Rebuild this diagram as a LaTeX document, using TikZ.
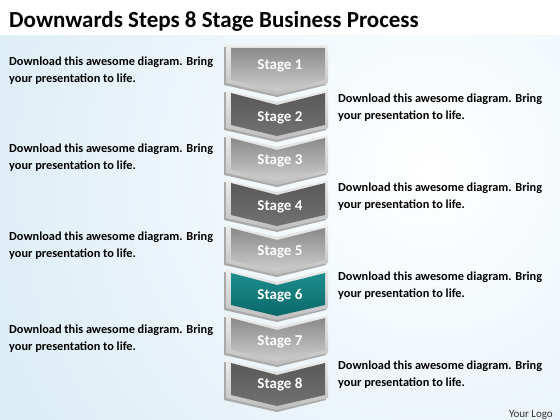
\documentclass[tikz,border=0pt]{standalone}
\usepackage{fontspec}
\setmainfont{Carlito}
\definecolor{bgblue}{HTML}{C4E0F0}
\definecolor{lightTop}{HTML}{8A8A8A}
\definecolor{lightBot}{HTML}{CDCDCD}
\definecolor{darkTop}{HTML}{595959}
\definecolor{darkBot}{HTML}{727272}
\definecolor{tealTop}{HTML}{1E8E8E}
\definecolor{tealBot}{HTML}{0A6868}
\definecolor{bevelTop}{HTML}{EDEDED}
\definecolor{bevelBot}{HTML}{BDBDBD}
\definecolor{shadowgray}{HTML}{A9A9A9}
\tikzset{
  desc/.style={anchor=west, align=left, inner sep=0pt, font=\fontsize{12.3}{17}\selectfont\bfseries, text=black},
  stagelabel/.style={inner sep=0pt, font=\fontsize{15}{16}\selectfont\bfseries, text=white},
}
% chevron: #1 top y, #2 top notch depth (0 = flat), #3 face top colour, #4 face bottom colour
\newcommand\stagechev[4]{%
  \fill[shadowgray] (224,#1+2) -- (277,#1+#2+2) -- (326,#1+2) -- (326,#1+40) -- (277,#1+52) -- (224,#1+40) -- cycle;
  \shade[top color=bevelTop, bottom color=bevelBot] (226,#1) -- (277,#1+#2) -- (328,#1) -- (328,#1+38) -- (277,#1+50) -- (226,#1+38) -- cycle;
  \shade[top color=#3, bottom color=#4] (231,#1+3) -- (277,#1+#2+3) -- (325,#1+3) -- (325,#1+35) -- (277,#1+46) -- (231,#1+35) -- cycle;
}
\begin{document}
\begin{tikzpicture}[x=1pt,y=-1pt]
\useasboundingbox (0,0) rectangle (560,420);
\fill[white] (0,0) rectangle (560,420);
\begin{scope}
  \clip (0,36) rectangle (560,420);
  \shade[inner color=white, outer color=bgblue] (430,170) circle (800);
\end{scope}
\node[anchor=base west, inner sep=0pt, font=\fontsize{23}{26}\selectfont\bfseries] (title) at (9,28) {Downwards Steps 8 Stage Business Process};

\stagechev{360}{12}{darkTop}{darkBot}
\stagechev{315}{12}{lightTop}{lightBot}
\stagechev{270}{12}{tealTop}{tealBot}
\stagechev{225}{12}{lightTop}{lightBot}
\stagechev{180}{12}{darkTop}{darkBot}
\stagechev{135}{12}{lightTop}{lightBot}
\stagechev{90}{12}{darkTop}{darkBot}
\stagechev{45}{0}{lightTop}{lightBot}

\node[stagelabel] (s1) at (280,66) {Stage 1};
\node[stagelabel] (s2) at (280,118) {Stage 2};
\node[stagelabel] (s3) at (280,161) {Stage 3};
\node[stagelabel] (s4) at (280,207) {Stage 4};
\node[stagelabel] (s5) at (280,252) {Stage 5};
\node[stagelabel] (s6) at (280,296) {Stage 6};
\node[stagelabel] (s7) at (280,342) {Stage 7};
\node[stagelabel] (s8) at (280,385) {Stage 8};

\node[desc] (l1) at (9,70.5) {Download this awesome diagram. Bring\\your presentation to life.};
\node[desc] (l2) at (9,157.5) {Download this awesome diagram. Bring\\your presentation to life.};
\node[desc] (l3) at (9,246) {Download this awesome diagram. Bring\\your presentation to life.};
\node[desc] (l4) at (9,338.5) {Download this awesome diagram. Bring\\your presentation to life.};
\node[desc] (r1) at (338,108) {Download this awesome diagram. Bring\\your presentation to life.};
\node[desc] (r2) at (338,197) {Download this awesome diagram. Bring\\your presentation to life.};
\node[desc] (r3) at (338,286) {Download this awesome diagram. Bring\\your presentation to life.};
\node[desc] (r4) at (338,375) {Download this awesome diagram. Bring\\your presentation to life.};

\node[anchor=east, inner sep=0pt, font=\fontsize{11}{13}\selectfont, text=black!80] (logo) at (553,415) {Your Logo};
\end{tikzpicture}
\end{document}
